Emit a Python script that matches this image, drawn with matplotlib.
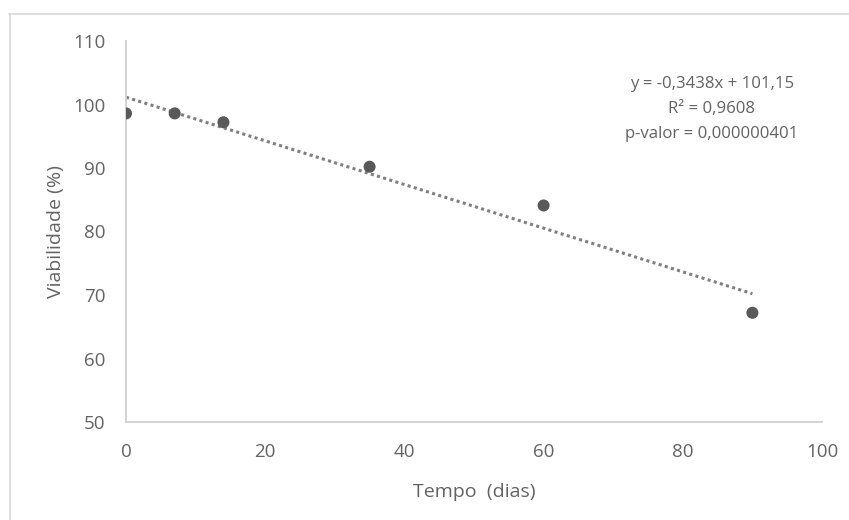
import matplotlib
matplotlib.use("Agg")
import matplotlib.pyplot as plt
from matplotlib.lines import Line2D
import numpy as np

tempo = [0, 7, 14, 35, 60, 90]
viabilidade = [98.6, 98.6, 97.2, 90.2, 84.1, 67.2]
slope = -0.3438
intercept = 101.15
x_ticks = [0, 20, 40, 60, 80, 100]
y_ticks = [50, 60, 70, 80, 90, 100, 110]
eq_lines = ["y = -0,3438x + 101,15", "R² = 0,9608", "p-valor = 0,000000401"]

plt.rcParams['font.family'] = ['Open Sans', 'DejaVu Sans']
fig = plt.figure(figsize=(8.49, 5.2), dpi=100)
ax = fig.add_axes([126/849, 98/520, 696/849, 381/520])

grey = '#595959'
txt = '#636363'
ax.scatter(tempo, viabilidade, s=75, color=grey, zorder=3, edgecolors='none')
xt = np.array([0, 90])
ax.plot(xt, slope*xt + intercept, color='#7f7f7f', lw=2.2, linestyle=(0, (1, 1.1)),
        dash_capstyle='butt', zorder=2)

ax.set_xlim(0, 100)
ax.set_ylim(50, 110)
ax.set_xticks(x_ticks)
ax.set_yticks(y_ticks)
ax.tick_params(length=0, labelsize=13.5, colors=txt)
ax.tick_params(axis='y', pad=15)
ax.tick_params(axis='x', pad=15)
for s in ['top', 'right']:
    ax.spines[s].set_visible(False)
for s in ['left', 'bottom']:
    ax.spines[s].set_color('#d0d0d0')
    ax.spines[s].set_linewidth(1.3)

ax.set_xlabel("Tempo  (dias)", fontsize=14, color=txt, labelpad=16)
ax.set_ylabel("Viabilidade (%)", fontsize=14, color=txt, labelpad=6)

for i, t in enumerate(eq_lines):
    fig.text(712/849, 1 - (84 + 25*i)/520, t, ha='center', va='center', fontsize=12.1, color=txt)

fig.add_artist(Line2D([9/849, 1], [1 - 14/520]*2, color='#d9d9d9', lw=1.2))
fig.add_artist(Line2D([9.5/849]*2, [0, 1 - 14/520], color='#d9d9d9', lw=1.2))

fig.savefig("out.png", dpi=100, facecolor='white')
